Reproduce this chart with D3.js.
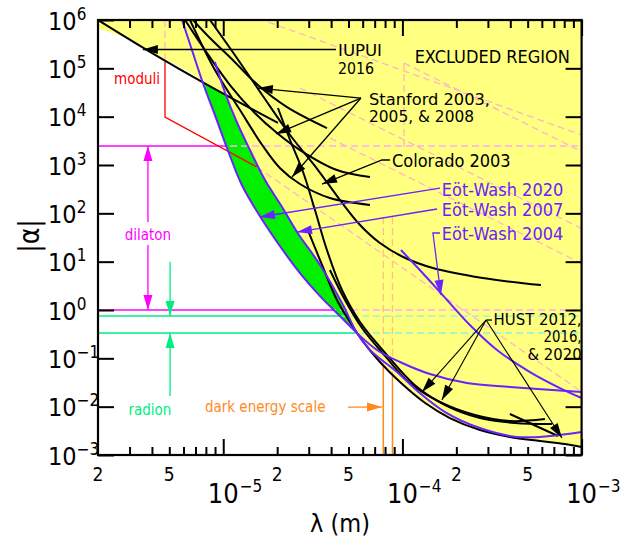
<!DOCTYPE html>
<html><head><meta charset="utf-8">
<script src="https://cdn.jsdelivr.net/npm/d3@7"></script>
<style>
body{margin:0;background:#fff;}
svg text{font-family:"Liberation Sans Narrow","DejaVu Sans Condensed","Liberation Sans",sans-serif;}
</style></head><body>
<svg id="c" width="630" height="544"></svg>
<script>
// ---------------- data (lambda in micrometres, alpha dimensionless) ----------------
const lamDomain = [2, 1000];
const alphaDomain = [1e-3, 1e6];
const xMinorTicks = [3,4,5,6,7,8,9,20,30,40,50,60,70,80,90,200,300,400,500,600,700,800,900];
const xMajorTicks = [10,100,1000];
const yMajorTicks = [1e-3,1e-2,1e-1,1,1e1,1e2,1e3,1e4,1e5,1e6];
const yTickExp = ["\u22123","\u22122","\u22121","0","1","2","3","4","5","6"];
const xSmallLabels = [[2,"2"],[5,"5"],[20,"2"],[50,"5"],[200,"2"],[500,"5"]];
const xDecadeLabels = [[10,"\u22125"],[100,"\u22124"],[1000,"\u22123"]];

// black experimental limits
const iupui2016   = [[2,1e6],[3.9,2.2e5],[8.4,4.3e4],[20.2,7.4e3]];
const stanfordA   = [[6.78,1e6],[8.43,4.24e5],[11.3,1.49e5],[15.6,4.52e4],[22.7,1.58e4],[37.9,5.82e3]];
const stanfordB   = [[6.12,1e6],[7.9,2.39e5],[10.9,4.52e4],[15.0,1.19e4],[19.95,4.59e3],[26.8,2.04e3],[43.1,787],[65.9,565]];
const stanfordC   = [[6.52,1e6],[8.99,9.2e4],[12.4,1.37e4],[16.5,2.59e3],[20.7,867],[26.8,404],[39.4,207],[65.9,149]];
const colorado2003= [[8.43,1e6],[11.6,1.89e5],[16.5,2.81e4],[23.6,4.18e3],[33.8,787],[44.8,189],[58.0,57.3],[74.9,24.3],[101,12.5],[148,7.39],[281,4.59],[593,3.29]];
const stanford2008= [[20.2,1.51e4],[23.6,3.29e3],[27.9,716],[32.5,117],[37.9,17.4],[46.0,2.59],[58.0,0.564],[82.0,0.117],[117,0.0281],[173,0.0108],[271,0.00582],[425,0.00459],[683,0.00438]];
const hust2012    = [[39.4,6.72],[47.8,1.61],[59.5,0.424],[80,0.112],[110,0.0308],[162,0.0125],[254,0.00671],[398,0.00505],[624,0.00555]];
const hust2020    = [[30.1,39.2],[35.6,8.53],[43.1,1.61],[51.0,0.564],[59.5,0.239],[74.9,0.084],[96.9,0.0324],[134,0.0119],[184,0.00582],[271,0.00329],[398,0.00236],[586,0.00195],[807,0.00169],[1000,0.00146]];
const hustShort   = [[398,0.00705],[738,0.00247]];

// purple Eot-Wash limits
const ew2020 = [[5.89,1e6],[6.69,2.39e5],[7.7,4.97e4],[8.99,1.08e4],[10.6,2.04e3],[12.7,385],[16.0,88],[20.7,21.1],[26.8,5.82],[34.7,1.94],[44.8,0.75],[55.8,0.334],[72.1,0.149],[96.9,0.084],[142.5,0.0473],[229,0.0308],[398,0.0255],[1000,0.0200]];
const ew2007 = [[8.99,1.35e5],[10.2,3.24e4],[11.9,7.76e3],[14.1,2.04e3],[17.1,489],[21.3,135],[25.8,41.1],[34.7,8.53],[46.6,1.27],[55.8,0.334],[65.9,0.149],[93.2,0.0521],[125,0.0191],[173,0.00774],[271,0.00361],[436,0.00236],[666,0.00247],[1000,0.00299]];
const ew2004 = [[98.1,17.4],[125,6.72],[164,2.24],[238,0.489],[337,0.149],[515,0.0521],[757,0.0243],[1000,0.0151]];

// excluded-region edge and new (green) region
const excludedEdge = [[2,6.5e5],[3.0,4.0e5],[3.9,2.2e5],[7.7,5.0e4],[8.99,1.08e4],[10.6,2.04e3],[12.7,385],[16.0,88],[20.7,21.1],[26.8,5.82],[34.7,1.94],[44.8,0.75],[55.8,0.334],[59.5,0.239],[74.9,0.084],[96.9,0.0324],[134,0.0119],[184,0.00582],[271,0.00329],[398,0.00236],[586,0.00195],[807,0.00169],[1000,0.00146]];
const greenLeft  = [[7.7,5.0e4],[8.99,1.08e4],[10.6,2.04e3],[12.7,385],[16.0,88],[20.7,21.1],[26.8,5.82],[34.7,1.94],[44.8,0.75],[55.8,0.334]];
const greenRight = [[55.8,0.334],[46.6,1.27],[34.7,8.53],[25.8,41.1],[21.3,135],[17.1,489],[14.1,2.04e3],[11.9,7.76e3],[10.5,2.68e4]];

// theory predictions
const moduliSolid  = [[4.73,1.35e5],[4.73,9.8e3],[15.4,910]];
const moduliDashed = [
  [[4.73,1e6],[4.73,1.35e5]],
  [[15.4,910],[1000,0.0203]],
  [[102,1.29e5],[102,2.36e3]],
  [[102,1.29e5],[1000,1.9e3]],
  [[17.8,9.1e5],[1000,4.18e3]],
  [[26.8,3.92e4],[1000,48.5]],
  [[39.4,3.62e3],[1000,9.16]]
];
const dilatonLevels = [2.47e3, 1.0];
const radionLevels  = [0.75, 0.334];
const darkEnergyLam = [78.2, 88.0];

// annotation text: [lines, lambda, alpha, colour, size, anchor, line widths (px)]
const textLabels = [
  [["IUPUI","2016"], 43.7, 1.8e5, "#000", 16, "start", [44,36]],
  [["EXCLUDED REGION"], 117, 1.32e5, "#000", 18, "start", null],
  [["Stanford 2003,","2005, & 2008"], 65.1, 1.74e4, "#000", 15.5, "start", [121,105]],
  [["Colorado 2003"], 87.4, 908, "#000", 18, "start", null],
  [["E\u00f6t-Wash 2020"], 166, 223, "#6a22ff", 18, "start", null],
  [["E\u00f6t-Wash 2007"], 166, 86, "#6a22ff", 18, "start", null],
  [["E\u00f6t-Wash 2004"], 166, 28, "#6a22ff", 18, "start", null],
  [["HUST 2012,","2016,","& 2020"], 1000, 0.489, "#000", 15.5, "end", [88,38,54]],
  [["moduli"], 2.46, 4.74e4, "#ff0000", 15, "start", null],
  [["dilaton"], 3.80, 28, "#ff00ff", 15, "middle", null],
  [["radion"], 3.9, 0.0067, "#00ee80", 15, "middle", null],
  [["dark energy scale"], 7.9, 0.0077, "#ff8a1c", 15, "start", null]
];
const lineGaps = {"IUPUI":18, "Stanford 2003,":17.4, "HUST 2012,":17.4};

// leader lines [points, colour, arrow?, width]
const leaders = [
  [[[42.6,2.45e5],[3.56,2.45e5]], "#000", true, 1.3],
  [[[58.7,2.43e4],[15.6,3.9e4]], "#000", true, 1.3],
  [[[58.7,2.43e4],[19.7,4.4e3]], "#000", true, 1.3],
  [[[58.7,2.43e4],[24.2,565]], "#000", true, 1.3],
  [[[85.2,1.27e3],[76.9,1.27e3],[35.6,404]], "#000", true, 1.3],
  [[[162,334],[16.0,84]], "#6a22ff", true, 1.3],
  [[[156,123],[25.8,41]], "#6a22ff", true, 1.3],
  [[[162,39.2],[148,39.2],[164,2.04]], "#6a22ff", true, 1.3],
  [[[316,0.62],[293,0.62]], "#000", false, 1.3],
  [[[293,0.62],[128.6,0.0201]], "#000", true, 1.1],
  [[[293,0.62],[166,0.0137]], "#000", true, 1.1],
  [[[293,0.62],[777,0.00224]], "#000", true, 1.1],
  [[[3.80,66],[3.80,2.47e3]], "#ff00ff", true, 1.3],
  [[[3.80,22],[3.80,1.0]], "#ff00ff", true, 1.3],
  [[[5.05,10],[5.05,0.75]], "#00ee80", true, 1.3],
  [[[5.05,0.0166],[5.05,0.334]], "#00ee80", true, 1.3],
  [[[49.7,0.0098],[76.9,0.0098]], "#ff8a1c", true, 1.3]
];

// ---------------- drawing ----------------
const svg = d3.select("#c");
const L = 98, R = 581.6, T = 20, B = 455;
const x = d3.scaleLog().domain(lamDomain).range([L, R]);
const y = d3.scaleLog().domain(alphaDomain).range([B, T]);
const smooth = d3.line().x(d=>x(d[0])).y(d=>y(d[1])).curve(d3.curveCatmullRom.alpha(0.5));
const straight = d3.line().x(d=>x(d[0])).y(d=>y(d[1]));

const defs = svg.append("defs");
function marker(id, col){
  defs.append("marker").attr("id",id).attr("viewBox","-16 -5 17 10")
    .attr("refX",0).attr("refY",0).attr("markerWidth",17).attr("markerHeight",10)
    .attr("markerUnits","userSpaceOnUse").attr("orient","auto")
    .append("path").attr("d","M0,0L-15,-4.5L-15,4.5Z").attr("fill",col);
}
const markerIds = {};
["#000","#6a22ff","#ff00ff","#00ee80","#ff8a1c"].forEach((c,i)=>{markerIds[c]="ah"+i; marker("ah"+i,c);});

// excluded region path
const excludedPath = smooth(excludedEdge) + "L" + x(lamDomain[1]) + "," + y(alphaDomain[1]) + "L" + x(lamDomain[0]) + "," + y(alphaDomain[1]) + "Z";
defs.append("clipPath").attr("id","excl").append("path").attr("d", excludedPath);
defs.append("clipPath").attr("id","plot").append("rect").attr("x",L).attr("y",T).attr("width",R-L).attr("height",B-T);

const g = svg.append("g").attr("clip-path","url(#plot)");

// solid theory lines (outside region)
dilatonLevels.forEach(a=>g.append("path").attr("d",straight([[lamDomain[0],a],[lamDomain[1],a]])).attr("stroke","#ff00ff").attr("stroke-width",1.5).attr("fill","none"));
radionLevels.forEach(a=>g.append("path").attr("d",straight([[lamDomain[0],a],[lamDomain[1],a]])).attr("stroke","#00ee80").attr("stroke-width",1.5).attr("fill","none"));
darkEnergyLam.forEach(l=>g.append("path").attr("d",straight([[l,alphaDomain[0]],[l,100]])).attr("stroke","#ff8a1c").attr("stroke-width",1.5).attr("fill","none"));

// yellow + green
g.append("path").attr("d",excludedPath).attr("fill","#ffff80");
g.append("path").attr("d", smooth(greenLeft) + smooth(greenRight).replace(/^M/,"L") + "Z").attr("fill","#00f000");

// dashed continuations inside excluded region
const dz = g.append("g").attr("clip-path","url(#excl)");
moduliDashed.forEach(s=>dz.append("path").attr("d",straight(s)).attr("stroke","#ffb0cc").attr("stroke-width",1.2).attr("stroke-dasharray","7,4").attr("fill","none"));
dilatonLevels.forEach(a=>dz.append("path").attr("d",straight([[lamDomain[0],a],[lamDomain[1],a]])).attr("stroke","#ffaaff").attr("stroke-width",1.3).attr("stroke-dasharray","7,4").attr("fill","none"));
radionLevels.forEach(a=>dz.append("path").attr("d",straight([[lamDomain[0],a],[lamDomain[1],a]])).attr("stroke","#88f5dd").attr("stroke-width",1.3).attr("stroke-dasharray","7,4").attr("fill","none"));
darkEnergyLam.forEach(l=>dz.append("path").attr("d",straight([[l,alphaDomain[0]],[l,100]])).attr("stroke","#ffc080").attr("stroke-width",1.3).attr("stroke-dasharray","7,4").attr("fill","none"));

// moduli solid
g.append("path").attr("d",straight(moduliSolid)).attr("stroke","#ff0000").attr("stroke-width",1.3).attr("fill","none");

// curves
[iupui2016,stanfordA,stanfordB,stanfordC,colorado2003,stanford2008,hust2012,hust2020,hustShort].forEach(c=>
  g.append("path").attr("d",smooth(c)).attr("stroke","#000").attr("stroke-width",2).attr("fill","none"));
[ew2020,ew2007,ew2004].forEach(c=>
  g.append("path").attr("d",smooth(c)).attr("stroke","#6a22ff").attr("stroke-width",2).attr("fill","none"));

// leaders
leaders.forEach(([pts,col,arrow,w])=>{
  const p = svg.append("path").attr("d",straight(pts)).attr("stroke",col).attr("stroke-width",w).attr("fill","none");
  if(arrow) p.attr("marker-end","url(#"+markerIds[col]+")");
});

// axes
function ax(gen, tr, vals, size){
  const a = svg.append("g").attr("transform",tr).call(gen.tickValues(vals).tickSize(size).tickFormat(""));
  a.select(".domain").remove();
  a.selectAll("line").attr("stroke","#000").attr("stroke-width",2);
}
ax(d3.axisBottom(x), `translate(0,${B})`, xMinorTicks, -8);
ax(d3.axisBottom(x), `translate(0,${B})`, xMajorTicks, -16);
ax(d3.axisTop(x), `translate(0,${T})`, xMinorTicks, -8);
ax(d3.axisTop(x), `translate(0,${T})`, xMajorTicks, -16);
ax(d3.axisLeft(y), `translate(${L},0)`, yMajorTicks, -16);
ax(d3.axisRight(y), `translate(${R},0)`, yMajorTicks, -16);
svg.append("rect").attr("x",L).attr("y",T).attr("width",R-L).attr("height",B-T)
  .attr("fill","none").attr("stroke","#000").attr("stroke-width",2.2);

// text labels (one text element per line)
textLabels.forEach(([lines,l,a,col,size,anchor,widths])=>{
  const gap = lineGaps[lines[0]] || 18;
  lines.forEach((s,i)=>{
    const t = svg.append("text").attr("x",x(l)).attr("y",y(a)+i*gap).attr("fill",col)
      .attr("font-size",size).attr("text-anchor",anchor).text(s);
    if(widths) t.attr("textLength",widths[i]).attr("lengthAdjust","spacingAndGlyphs");
  });
});

// y tick labels
yMajorTicks.forEach((v,i)=>{
  const t = svg.append("text").attr("x",48).attr("y",y(v)+9.5).attr("font-size",25).attr("fill","#000");
  t.append("tspan").text("10");
  t.append("tspan").attr("font-size",17).attr("dy",-10).text(yTickExp[i]);
});
// x tick labels
xSmallLabels.forEach(([v,s])=>svg.append("text").attr("x",x(v)).attr("y",481).attr("font-size",19)
  .attr("text-anchor","middle").text(s));
xDecadeLabels.forEach(([v,s])=>{
  const t = svg.append("text").attr("x",x(v)).attr("y",503).attr("font-size",27).attr("text-anchor","middle").text("10");
  const w = t.node().getComputedTextLength();
  svg.append("text").attr("x",x(v)+w/2+1).attr("y",492).attr("font-size",17).text(s);
});
// axis titles
svg.append("text").attr("x",340).attr("y",532).attr("font-size",25).attr("text-anchor","middle").text("\u03bb (m)");
svg.append("text").attr("transform","translate(39,236) rotate(-90)").attr("font-size",28)
  .attr("text-anchor","middle").text("|\u03b1|");
</script>
</body></html>
